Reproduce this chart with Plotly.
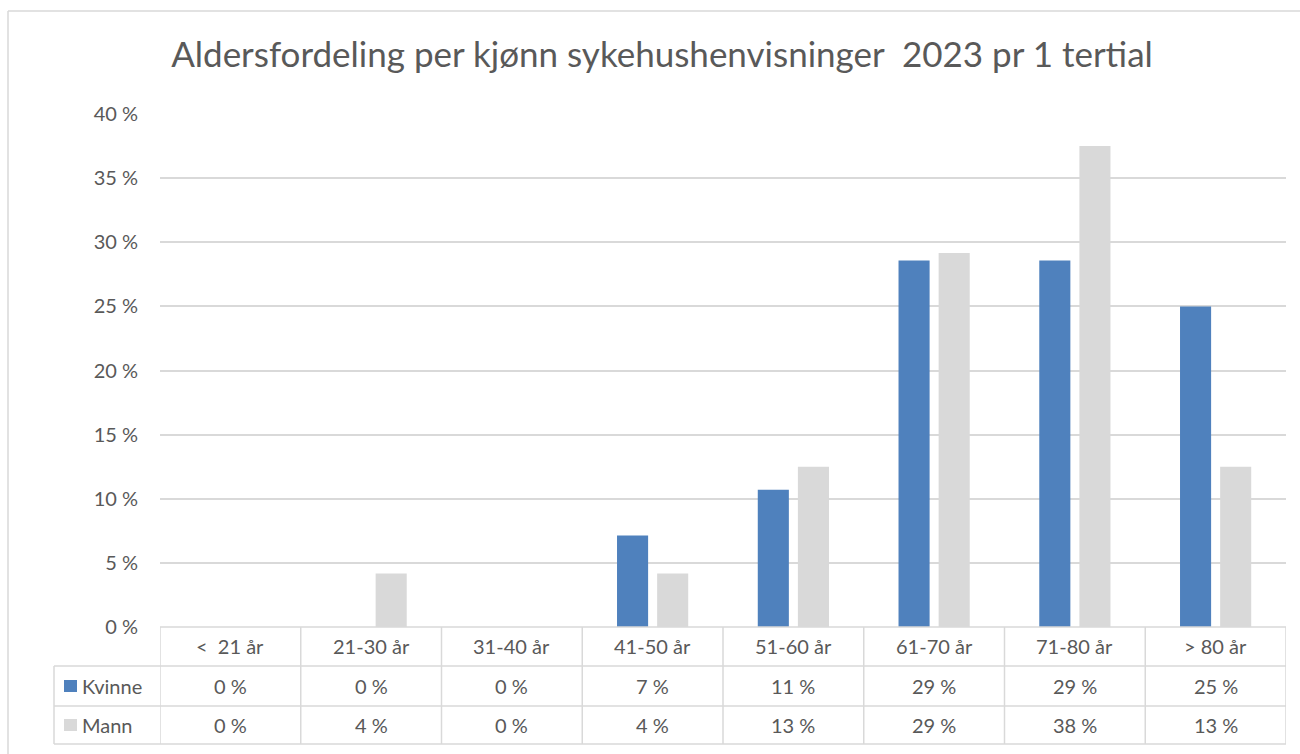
import plotly.graph_objects as go

categories = ["<  21 år", "21-30 år", "31-40 år", "41-50 år", "51-60 år", "61-70 år", "71-80 år", "> 80 år"]
kvinne = [0.0, 0.0, 0.0, 0.0714, 0.1071, 0.2857, 0.2857, 0.25]
mann = [0.0, 0.0417, 0.0, 0.0417, 0.125, 0.2917, 0.375, 0.125]
series_names = ["Kvinne", "Mann"]
y_ticks = [0, 0.05, 0.10, 0.15, 0.20, 0.25, 0.30, 0.35, 0.40]
title = "Aldersfordeling per kjønn sykehushenvisninger  2023 pr 1 tertial"

BLUE = "#4F81BD"
GRAY = "#D9D9D9"
TXT = "#595959"
FONT = "Lato"
FS = 20

W, H = 1300, 754
L, R, T, B = 160, 1286, 114, 627


def px(x):
    return (x - L) / (R - L)


def py(y):
    return (B - y) / (B - T)


def pct(v):
    return f"{int(v * 100 + 0.5)} %"


fig = go.Figure()
fig.add_trace(go.Bar(x=list(range(len(categories))), y=kvinne, name=series_names[0],
                     marker=dict(color=BLUE, line=dict(width=0))))
fig.add_trace(go.Bar(x=list(range(len(categories))), y=mann, name=series_names[1],
                     marker=dict(color=GRAY, line=dict(width=0))))

shapes = []
annotations = []
n = len(categories)
line = dict(color=GRAY, width=1.5)

# outer chart border
shapes.append(dict(type="line", xref="paper", yref="paper", x0=px(8), x1=px(1310), y0=py(11), y1=py(11), line=line))
shapes.append(dict(type="line", xref="paper", yref="paper", x0=px(8), x1=px(8), y0=py(11), y1=py(760), line=line))

# data table
row_lines = [666, 706, 744]
shapes.append(dict(type="line", xref="paper", yref="paper", x0=px(L), x1=px(R), y0=py(B), y1=py(B), line=line))
for yl in row_lines:
    shapes.append(dict(type="line", xref="paper", yref="paper", x0=px(54), x1=px(R), y0=py(yl), y1=py(yl), line=line))
shapes.append(dict(type="line", xref="paper", yref="paper", x0=px(54), x1=px(54), y0=py(666), y1=py(744), line=line))
for i in range(n + 1):
    xb = i - 0.5
    shapes.append(dict(type="line", xref="x", yref="paper", x0=xb, x1=xb, y0=py(B), y1=py(744), line=line))

row_centers = [646, 686, 725]
for i, c in enumerate(categories):
    annotations.append(dict(x=i, y=py(row_centers[0]), xref="x", yref="paper", text=c, showarrow=False,
                            font=dict(family=FONT, size=FS, color=TXT), xanchor="center", yanchor="middle"))
    annotations.append(dict(x=i, y=py(row_centers[1]), xref="x", yref="paper", text=pct(kvinne[i]), showarrow=False,
                            font=dict(family=FONT, size=FS, color=TXT), xanchor="center", yanchor="middle"))
    annotations.append(dict(x=i, y=py(row_centers[2]), xref="x", yref="paper", text=pct(mann[i]), showarrow=False,
                            font=dict(family=FONT, size=FS, color=TXT), xanchor="center", yanchor="middle"))

for name, col, yc in [(series_names[0], BLUE, row_centers[1]), (series_names[1], GRAY, row_centers[2])]:
    shapes.append(dict(type="rect", xref="paper", yref="paper", x0=px(64), x1=px(77), y0=py(yc - 6), y1=py(yc + 6),
                       fillcolor=col, line=dict(width=0)))
    annotations.append(dict(x=px(80), y=py(yc), xref="paper", yref="paper", text=name, showarrow=False,
                            font=dict(family=FONT, size=FS, color=TXT), xanchor="left", yanchor="middle"))

fig.update_layout(
    width=W, height=H,
    margin=dict(l=L, r=W - R, t=T, b=H - B),
    paper_bgcolor="white", plot_bgcolor="white",
    barmode="group", bargap=0.43, bargroupgap=0.225,
    showlegend=False,
    title=dict(text=title, x=662 / W, y=1 - 55 / H, xanchor="center", yanchor="middle",
               font=dict(family=FONT, size=35, color=TXT)),
    xaxis=dict(range=[-0.5, n - 0.5], showticklabels=False, showgrid=False, zeroline=False,
               showline=False, ticks=""),
    yaxis=dict(range=[0, 0.4], tickvals=y_ticks, ticktext=[pct(v) for v in y_ticks],
               showgrid=True, gridcolor=GRAY, gridwidth=1.5, zeroline=False, showline=False,
               ticks="", ticklabelstandoff=21,
               tickfont=dict(family=FONT, size=FS, color=TXT)),
    shapes=shapes, annotations=annotations,
    font=dict(family=FONT, color=TXT),
)

fig.write_html("out.html", config={"displayModeBar": False},
               post_script="document.body.style.margin='0';document.body.style.padding='0';")
